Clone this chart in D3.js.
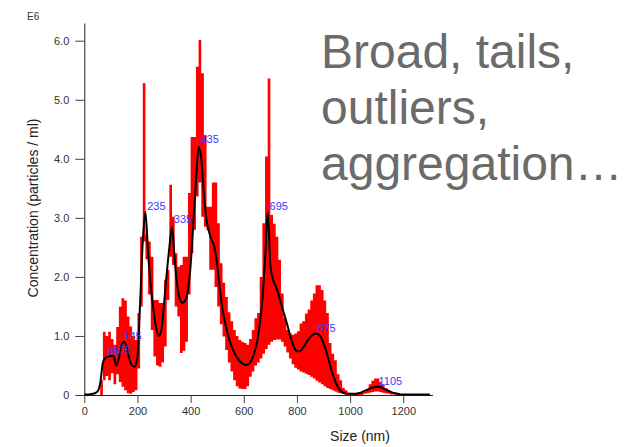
<meta charset="utf-8">
<style>
  body { margin: 0; background: #fff; }
  svg { display: block; font-family: "Liberation Sans", Arial, sans-serif; }
</style>
<svg width="641" height="447"></svg>
<script src="https://d3js.org/d3.v7.min.js"></script>
<script>
// size bins every 10 nm starting at 0 (concentration in E6 particles / ml)
var binWidth = 10;

var meanConc = [
  0.01, 0.01, 0.01, 0.02, 0.03, 0.06, 0.2, 0.55, 0.63, 0.65,
  0.66, 0.66, 0.5, 0.62, 0.85, 0.9, 0.8, 0.6, 0.5, 0.48,
  0.65, 1.56, 2.6, 3.1, 2.4, 1.85, 1.45, 1.15, 1.0, 1.1,
  1.55, 2.05, 2.5, 2.85, 2.3, 1.85, 1.62, 1.56, 1.6, 1.78,
  2.2, 2.9, 3.6, 4.2, 4.0, 3.4, 2.96, 2.75, 2.62, 2.5,
  2.2, 1.8, 1.45, 1.22, 1.03, 0.88, 0.76, 0.67, 0.6, 0.55,
  0.52, 0.51, 0.53, 0.6, 0.72, 0.9, 1.2, 1.6, 2.3, 3.1,
  2.2, 1.95, 1.85, 1.72, 1.55, 1.4, 1.25, 1.08, 0.92, 0.8,
  0.74, 0.74, 0.78, 0.85, 0.92, 0.98, 1.02, 1.04, 1.03, 0.98,
  0.88, 0.75, 0.58, 0.42, 0.28, 0.17, 0.09, 0.05, 0.03, 0.02,
  0.02, 0.02, 0.02, 0.03, 0.04, 0.06, 0.08, 0.1, 0.12, 0.13,
  0.14, 0.14, 0.12, 0.1, 0.08, 0.06, 0.04, 0.03, 0.02, 0.01,
  0.01, 0.01, 0.01, 0.01, 0.01, 0.01, 0.01, 0.01, 0.01, 0.01,
  0.01
];

var upperConc = [
  0, 0, 0, 0, 0, 0, 0.25, 1.07, 1.0, 1.07,
  0.95, 0.85, 1.15, 1.5, 1.64, 1.6, 1.33, 1.16, 1.0, 0.93,
  1.39, 2.68, 5.28, 2.72, 2.6, 2.34, 1.61, 1.61, 1.56, 1.56,
  1.95, 2.12, 3.56, 3.02, 2.4, 2.17, 2.2, 2.34, 2.34, 3.42,
  4.37, 4.37, 5.56, 6.01, 5.45, 4.4, 3.19, 3.19, 3.6, 3.6,
  2.91, 2.23, 1.9, 1.66, 1.4, 1.25, 1.1, 1.0, 0.93, 0.9,
  0.88, 0.85, 0.95, 1.1, 1.3, 1.39, 2.0, 2.91, 4.04, 5.36,
  3.05, 2.9, 2.68, 2.29, 1.72, 1.3, 1.1, 1.05, 1.02, 1.04,
  1.08, 1.21, 1.25, 1.38, 1.45, 1.6, 1.72, 1.86, 1.86, 1.78,
  1.6, 1.39, 0.88, 0.7, 0.59, 0.35, 0.25, 0.12, 0.08, 0.04,
  0.02, 0.02, 0.02, 0.03, 0.04, 0.05, 0.1, 0.18, 0.24, 0.28,
  0.28, 0.22, 0.17, 0.12, 0.08, 0.05, 0.03, 0.02, 0, 0,
  0, 0, 0, 0, 0, 0, 0, 0, 0, 0,
  0
];

var lowerConc = [
  0, 0, 0, 0, 0, 0, 0, 0.25, 0.32, 0.25,
  0.37, 0.18, 0.35, 0.22, 0.14, 0.08, 0.03, 0.02, 0.05, 0.08,
  0.45, 1.5, 2.6, 2.3, 1.7, 1.1, 0.65, 0.5, 0.48, 0.55,
  0.82, 1.61, 2.34, 2.2, 1.5, 1.33, 0.71, 0.75, 0.9, 1.7,
  2.4, 2.8, 3.36, 3.6, 3.02, 2.85, 2.79, 2.12, 2.12, 1.83,
  1.5, 1.2, 0.99, 0.76, 0.55, 0.4, 0.25, 0.15, 0.11, 0.1,
  0.1, 0.15, 0.31, 0.4, 0.5, 0.55, 0.62, 0.7, 0.78, 0.85,
  0.9, 0.93, 0.94, 0.94, 0.9, 0.82, 0.72, 0.62, 0.52, 0.46,
  0.43, 0.4, 0.38, 0.36, 0.34, 0.31, 0.28, 0.24, 0.21, 0.18,
  0.15, 0.12, 0.1, 0.08, 0.06, 0.04, 0.03, 0.02, 0.01, 0,
  0, 0, 0, 0, 0, 0.02, 0.03, 0.04, 0.05, 0.06,
  0.06, 0.05, 0.04, 0.03, 0.02, 0.01, 0.01, 0, 0, 0,
  0, 0, 0, 0, 0, 0, 0, 0, 0, 0,
  0
];

// labelled peaks: size (nm) and mean height at the peak
var peakSizes = [85, 105, 145, 235, 335, 435, 695, 875, 1105];
var peakHeights = [0.65, 0.66, 0.9, 3.1, 2.88, 4.23, 3.1, 1.04, 0.14];

var xTicks = [0, 200, 400, 600, 800, 1000, 1200];
var yTicks = [0, 1, 2, 3, 4, 5, 6];

var captionLines = ["Broad, tails,", "outliers,", "aggregation\u2026"];

var data = meanConc.map(function(m, i) {
  return { size: i * binWidth, mean: m, upper: upperConc[i], lower: lowerConc[i] };
});

var svg = d3.select("svg");

var x = d3.scaleLinear().domain([0, 1310]).range([84.3, 432.5]);
var y = d3.scaleLinear().domain([0, 6.3]).range([395, 23]);

// red error band, stepped per bin
var band = d3.area()
  .curve(d3.curveStepAfter)
  .x(function(d) { return x(d.size); })
  .y0(function(d) { return y(d.lower); })
  .y1(function(d) { return y(d.upper); });

svg.append("path")
  .datum(data.concat([{ size: data.length * binWidth, upper: 0, lower: 0 }]))
  .attr("fill", "#ff0000")
  .attr("d", band);

// axes
var xAxis = svg.append("g")
  .attr("transform", "translate(0," + y(0) + ")")
  .call(d3.axisBottom(x).tickValues(xTicks).tickSize(8).tickPadding(4).tickSizeOuter(0)
    .tickFormat(d3.format("d")));

var yAxis = svg.append("g")
  .attr("transform", "translate(" + x(0) + ",0)")
  .call(d3.axisLeft(y).tickValues(yTicks).tickSize(9).tickPadding(6).tickSizeOuter(0)
    .tickFormat(function(d) { return d === 0 ? "0" : d3.format(".1f")(d); }));

[xAxis, yAxis].forEach(function(g) {
  g.attr("font-family", "'Liberation Sans', Arial, sans-serif").attr("font-size", 11);
  g.selectAll("text").attr("fill", "#333");
  g.selectAll("line").attr("stroke", "#444");
  g.select(".domain").attr("stroke", "#222");
});

// mean curve
var meanLine = d3.line()
  .curve(d3.curveMonotoneX)
  .x(function(d) { return x(d.size); })
  .y(function(d) { return y(d.mean); });

svg.append("path")
  .datum(data)
  .attr("fill", "none")
  .attr("stroke", "#000")
  .attr("stroke-width", 2)
  .attr("d", meanLine);

// peak labels
svg.append("g")
  .selectAll("text")
  .data(peakSizes)
  .enter().append("text")
    .attr("x", function(d) { return x(d) + 0.5; })
    .attr("y", function(d, i) { return y(peakHeights[i]) - 2; })
    .attr("fill", "#3a3aff")
    .attr("font-size", 11)
    .text(function(d) { return d; });

// axis titles
svg.append("text")
  .attr("x", 27).attr("y", 20)
  .attr("font-size", 10)
  .attr("fill", "#333")
  .text("E6");

svg.append("text")
  .attr("transform", "translate(38,208) rotate(-90)")
  .attr("text-anchor", "middle")
  .attr("font-size", 14)
  .attr("fill", "#222")
  .text("Concentration (particles / ml)");

svg.append("text")
  .attr("x", 360).attr("y", 441)
  .attr("text-anchor", "middle")
  .attr("font-size", 14)
  .attr("fill", "#222")
  .text("Size (nm)");

// caption
svg.append("g")
  .selectAll("text")
  .data(captionLines)
  .enter().append("text")
    .attr("x", 321)
    .attr("y", function(d, i) { return 68 + i * 56; })
    .attr("font-size", 48)
    .attr("fill", "#6b6b6b")
    .text(function(d) { return d; });
</script>
